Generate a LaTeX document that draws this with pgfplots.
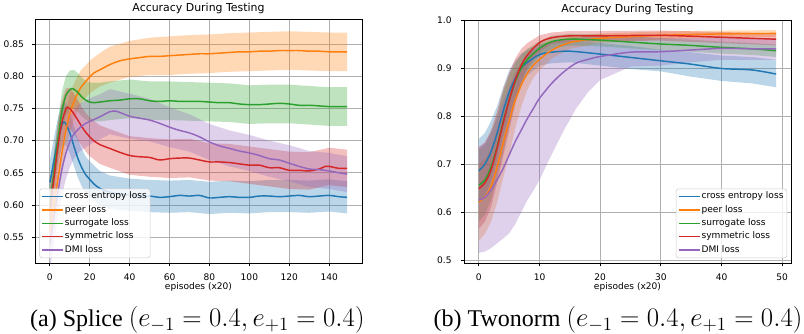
\RequirePackage{fix-cm}
\documentclass[border=0pt]{standalone}
\usepackage[no-math]{fontspec}
\setmainfont{DejaVu Sans}
\newfontfamily\capfont{Liberation Serif}
\usepackage{pgfplots}
\usepackage{pgfplotstable}
\pgfplotsset{compat=1.18}
\definecolor{c1}{HTML}{1F77B4}
\definecolor{c2}{HTML}{FF7F0E}
\definecolor{c3}{HTML}{2CA02C}
\definecolor{c4}{HTML}{D62728}
\definecolor{c5}{HTML}{9467BD}
\definecolor{gridc}{RGB}{176,176,176}
\definecolor{legc}{RGB}{204,204,204}

% ---------- Splice (left) : mean curves ----------
\pgfplotstableread{
t m
0 0.635
2 0.668
4 0.700
6 0.724
7 0.729
8 0.726
10 0.712
12 0.692
14 0.673
16 0.658
18 0.647
20 0.640
22 0.633
25 0.626
30 0.620
35 0.617
40 0.616
45 0.614
50 0.614
55 0.612
60 0.613
65 0.615
70 0.614
75 0.615
80 0.611
85 0.612
90 0.613
95 0.612
100 0.612
105 0.614
110 0.614
115 0.613
120 0.614
125 0.615
130 0.613
135 0.614
140 0.615
145 0.613
149 0.612
}\LA
\pgfplotstableread{
t m
0 0.560
2 0.600
4 0.640
6 0.680
8 0.715
10 0.742
12 0.760
15 0.780
18 0.792
20 0.799
22 0.805
25 0.810
30 0.818
35 0.824
40 0.827
45 0.829
50 0.831
55 0.831
60 0.832
65 0.833
70 0.834
75 0.835
80 0.835
85 0.836
90 0.837
95 0.838
100 0.838
105 0.839
110 0.839
115 0.840
120 0.840
125 0.840
130 0.839
135 0.839
140 0.838
145 0.838
149 0.838
}\LB
\pgfplotstableread{
t m
0 0.600
2 0.650
4 0.700
6 0.745
8 0.770
10 0.779
11 0.781
12 0.780
14 0.775
16 0.768
18 0.763
20 0.760
22 0.759
25 0.760
30 0.762
35 0.763
40 0.765
45 0.765
50 0.762
55 0.761
60 0.762
65 0.761
70 0.761
75 0.761
80 0.760
85 0.759
90 0.759
95 0.757
100 0.756
105 0.756
110 0.757
115 0.758
120 0.757
125 0.755
130 0.755
135 0.754
140 0.753
145 0.753
149 0.753
}\LC
\pgfplotstableread{
t m
0 0.590
2 0.640
4 0.690
6 0.728
8 0.749
9 0.752
10 0.750
12 0.742
14 0.732
16 0.722
18 0.713
20 0.706
22 0.700
25 0.694
30 0.688
35 0.682
40 0.677
45 0.675
50 0.674
55 0.670
60 0.672
65 0.673
70 0.673
75 0.670
80 0.667
85 0.667
90 0.666
95 0.664
100 0.662
105 0.662
110 0.658
115 0.658
120 0.654
125 0.654
130 0.653
135 0.656
138 0.660
140 0.660
145 0.657
149 0.657
}\LD
\pgfplotstableread{
t m
0 0.540
2 0.580
4 0.620
6 0.655
8 0.680
10 0.698
12 0.710
15 0.720
18 0.727
20 0.730
25 0.737
30 0.745
33 0.746
35 0.744
40 0.738
45 0.735
50 0.732
55 0.727
60 0.721
65 0.716
70 0.712
75 0.706
80 0.698
85 0.692
90 0.688
95 0.684
100 0.681
105 0.677
110 0.672
115 0.670
120 0.665
125 0.660
130 0.656
135 0.655
140 0.653
145 0.650
149 0.648
}\LE

% ---------- Twonorm (right) : mean curves ----------
\pgfplotstableread{
t m
0 0.686
1 0.700
2 0.726
3 0.764
4 0.810
5 0.850
6 0.878
7 0.900
8 0.912
10 0.928
12 0.933
15 0.935
20 0.929
25 0.922
30 0.915
35 0.908
40 0.899
45 0.896
49 0.8875
}\RA
\pgfplotstableread{
t m
0 0.621
1 0.632
2 0.653
3 0.694
4 0.743
5 0.790
6 0.833
7 0.865
8 0.889
9 0.906
10 0.918
12 0.937
15 0.953
20 0.962
30 0.968
40 0.971
49 0.972
}\RB
\pgfplotstableread{
t m
0 0.656
1 0.667
2 0.694
3 0.736
4 0.788
5 0.833
6 0.872
7 0.900
8 0.918
10 0.941
12 0.955
15 0.960
20 0.958
25 0.954
30 0.950
35 0.947
40 0.943
45 0.940
49 0.936
}\RC
\pgfplotstableread{
t m
0 0.649
1 0.661
2 0.6875
3 0.733
4 0.785
5 0.833
6 0.875
7 0.906
8 0.927
10 0.953
12 0.963
15 0.967
20 0.967
30 0.968
40 0.964
49 0.960
}\RD
\pgfplotstableread{
t m
0 0.625
1 0.631
2 0.646
3 0.667
4 0.691
5 0.719
6 0.747
7 0.771
8 0.795
9 0.816
10 0.837
12 0.868
14 0.892
16 0.910
18 0.918
20 0.924
25 0.933
30 0.934
35 0.9375
40 0.941
45 0.940
49 0.940
}\RE

\pgfplotsset{
  band/.style={fill=#1, fill opacity=0.3, draw=none, forget plot},
  mean/.style={#1, line width=1.1pt, smooth},
  mpl/.style={
    scale only axis,
    axis line style={black, line width=0.6pt},
    grid=major,
    major grid style={gridc, line width=0.7pt},
    tick align=outside,
    tick pos=left,
    major tick length=2.6pt,
    every tick/.style={black, line width=0.6pt},
    tick label style={font=\fontsize{6.8}{8}\selectfont},
    /pgf/number format/assume math mode=true,
    xticklabel style={anchor=base, inner sep=0pt, yshift=-10.7pt},
    xlabel={episodes (x20)},
    xlabel style={font=\fontsize{6.8}{8}\selectfont, at={(axis description cs:0.5,0)}, anchor=base, inner sep=0pt, yshift=-19.5pt},
    title={Accuracy During Testing},
    title style={font=\fontsize{8.2}{9.8}\selectfont, at={(axis description cs:0.5,1)}, anchor=base, inner sep=0pt, yshift=-0.5pt},
    legend cell align=left,
    legend image code/.code={\draw[##1, line width=1.1pt] (0pt,0pt) -- (15.5pt,0pt);},
    legend style={font=\fontsize{6.8}{8}\selectfont, draw=legc, fill=white, fill opacity=0.8, draw opacity=1, text opacity=1, rounded corners=2pt, inner xsep=1.5pt, inner ysep=1.7pt, row sep=1.6pt, nodes={inner sep=1pt, text height=4.9pt, text depth=1.5pt}},
  }
}

\begin{document}
\begin{tikzpicture}
\useasboundingbox (0,0) rectangle (603pt,249.75pt);

\begin{axis}[mpl,
  at={(26.25pt,52.5pt)}, anchor=south west,
  width=245.25pt, height=183pt,
  xmin=-7.45, xmax=156.45, ymin=0.510, ymax=0.889,
  xtick={0,20,...,140},
  ytick={0.55,0.60,0.65,0.70,0.75,0.80,0.85},
  yticklabel style={anchor=east, inner sep=0pt, xshift=-5.5pt, /pgf/number format/.cd, fixed, fixed zerofill, precision=2},
  legend style={at={(0.013,0.02)}, anchor=south west},
]
% bands: upper edge forward, lower edge backward
\addplot[band=c1] coordinates {(0,0.670) (2,0.703) (4,0.735) (6,0.757) (8,0.759) (10,0.744) (12,0.723) (14,0.703) (16,0.687) (18,0.675) (20,0.668) (25,0.653) (30,0.646) (40,0.641) (50,0.639) (60,0.638) (70,0.639) (80,0.636) (90,0.638) (100,0.637) (110,0.639) (120,0.639) (130,0.638) (140,0.640) (149,0.637)
 (149,0.587) (140,0.590) (130,0.588) (120,0.589) (110,0.589) (100,0.587) (90,0.588) (80,0.586) (70,0.589) (60,0.588) (50,0.589) (40,0.591) (30,0.594) (25,0.599) (20,0.612) (18,0.619) (16,0.629) (14,0.643) (12,0.661) (10,0.680) (8,0.693) (6,0.691) (4,0.665) (2,0.633) (0,0.600)};
\addplot[band=c2] coordinates {(0,0.590) (2,0.630) (4,0.670) (6,0.710) (8,0.745) (10,0.772) (12,0.788) (14,0.801) (16,0.811) (18,0.817) (20,0.824) (25,0.836) (30,0.846) (40,0.855) (50,0.860) (60,0.862) (70,0.864) (80,0.865) (90,0.867) (100,0.868) (110,0.869) (120,0.870) (130,0.869) (140,0.868) (149,0.868)
 (149,0.808) (140,0.808) (130,0.809) (120,0.810) (110,0.809) (100,0.808) (90,0.807) (80,0.805) (70,0.804) (60,0.802) (50,0.802) (40,0.799) (30,0.790) (25,0.784) (20,0.774) (18,0.767) (16,0.759) (14,0.747) (12,0.732) (10,0.712) (8,0.685) (6,0.650) (4,0.610) (2,0.570) (0,0.530)};
\addplot[band=c3] coordinates {(0,0.630) (2,0.680) (4,0.730) (6,0.775) (8,0.800) (10,0.809) (12,0.810) (14,0.805) (16,0.798) (18,0.793) (20,0.790) (25,0.790) (30,0.792) (40,0.795) (50,0.792) (60,0.792) (70,0.791) (80,0.790) (90,0.789) (100,0.786) (110,0.787) (120,0.787) (130,0.785) (140,0.783) (149,0.783)
 (149,0.723) (140,0.723) (130,0.725) (120,0.727) (110,0.727) (100,0.726) (90,0.729) (80,0.730) (70,0.731) (60,0.732) (50,0.732) (40,0.735) (30,0.732) (25,0.730) (20,0.730) (18,0.733) (16,0.738) (14,0.745) (12,0.750) (10,0.749) (8,0.740) (6,0.715) (4,0.670) (2,0.620) (0,0.570)};
\addplot[band=c4] coordinates {(0,0.625) (2,0.675) (4,0.724) (6,0.761) (8,0.781) (10,0.782) (12,0.773) (14,0.763) (16,0.752) (18,0.743) (20,0.736) (25,0.724) (30,0.718) (40,0.707) (50,0.704) (60,0.702) (70,0.703) (80,0.696) (90,0.695) (100,0.691) (110,0.687) (120,0.683) (130,0.682) (140,0.689) (149,0.686)
 (149,0.628) (140,0.631) (130,0.624) (120,0.625) (110,0.629) (100,0.633) (90,0.637) (80,0.638) (70,0.643) (60,0.642) (50,0.644) (40,0.647) (30,0.658) (25,0.664) (20,0.676) (18,0.683) (16,0.692) (14,0.701) (12,0.711) (10,0.718) (8,0.717) (6,0.695) (4,0.656) (2,0.605) (0,0.555)};
\addplot[band=c5] coordinates {(0,0.580) (2,0.620) (4,0.660) (6,0.695) (8,0.720) (10,0.738) (12,0.748) (15,0.757) (20,0.766) (25,0.772) (30,0.780) (40,0.773) (50,0.765) (60,0.752) (70,0.741) (80,0.726) (90,0.716) (100,0.709) (110,0.700) (120,0.693) (130,0.684) (140,0.681) (149,0.676)
 (149,0.620) (140,0.625) (130,0.628) (120,0.637) (110,0.644) (100,0.653) (90,0.660) (80,0.670) (70,0.683) (60,0.690) (50,0.699) (40,0.703) (30,0.710) (25,0.702) (20,0.694) (15,0.683) (12,0.672) (10,0.658) (8,0.640) (6,0.615) (4,0.580) (2,0.540) (0,0.500)};
\addplot[mean=c1] table[x=t, y=m] {\LA};
\addplot[mean=c2] table[x=t, y=m] {\LB};
\addplot[mean=c3] table[x=t, y=m] {\LC};
\addplot[mean=c4] table[x=t, y=m] {\LD};
\addplot[mean=c5] table[x=t, y=m] {\LE};
\legend{cross entropy loss, peer loss, surrogate loss, symmetric loss, DMI loss}
\end{axis}

\begin{axis}[mpl,
  at={(348pt,52.5pt)}, anchor=south west,
  width=245.25pt, height=182.25pt,
  xmin=-2.45, xmax=51.45, ymin=0.494, ymax=1.0,
  xtick={0,10,...,50},
  ytick={0.5,0.6,0.7,0.8,0.9,1.0},
  yticklabel style={anchor=east, inner sep=0pt, xshift=-6.5pt, /pgf/number format/.cd, fixed, fixed zerofill, precision=1},
  legend style={at={(0.988,0.02)}, anchor=south east},
]
\addplot[band=c1] coordinates {(0,0.752) (1,0.765) (2,0.790) (3,0.820) (4,0.860) (5,0.895) (6,0.915) (7,0.930) (8,0.938) (10,0.950) (12,0.955) (15,0.957) (20,0.952) (25,0.946) (30,0.938) (35,0.933) (40,0.926) (45,0.923) (49,0.917)
 (49,0.860) (45,0.868) (40,0.873) (35,0.882) (30,0.893) (25,0.898) (20,0.905) (15,0.912) (12,0.910) (10,0.905) (8,0.885) (7,0.865) (6,0.840) (5,0.800) (4,0.760) (3,0.710) (2,0.665) (1,0.635) (0,0.620)};
\addplot[band=c2] coordinates {(0,0.700) (1,0.710) (2,0.730) (3,0.770) (4,0.815) (5,0.855) (6,0.890) (7,0.910) (8,0.925) (9,0.935) (10,0.942) (12,0.953) (15,0.965) (20,0.972) (30,0.976) (40,0.978) (49,0.979)
 (49,0.965) (40,0.964) (30,0.960) (20,0.952) (15,0.940) (12,0.920) (10,0.895) (9,0.880) (8,0.855) (7,0.820) (6,0.775) (5,0.720) (4,0.670) (3,0.620) (2,0.580) (1,0.555) (0,0.540)};
\addplot[band=c3] coordinates {(0,0.730) (1,0.740) (2,0.765) (3,0.800) (4,0.850) (5,0.885) (6,0.910) (7,0.928) (8,0.940) (10,0.956) (12,0.967) (15,0.971) (20,0.970) (25,0.966) (30,0.962) (35,0.959) (40,0.955) (45,0.952) (49,0.949)
 (49,0.923) (45,0.927) (40,0.930) (35,0.934) (30,0.937) (25,0.941) (20,0.945) (15,0.947) (12,0.940) (10,0.925) (8,0.895) (7,0.870) (6,0.830) (5,0.780) (4,0.725) (3,0.670) (2,0.625) (1,0.595) (0,0.580)};
\addplot[band=c4] coordinates {(0,0.735) (1,0.745) (2,0.770) (3,0.810) (4,0.855) (5,0.890) (6,0.920) (7,0.940) (8,0.952) (10,0.968) (12,0.974) (15,0.977) (20,0.977) (30,0.978) (40,0.975) (49,0.972)
 (49,0.947) (40,0.952) (30,0.957) (20,0.956) (15,0.955) (12,0.950) (10,0.935) (8,0.900) (7,0.870) (6,0.825) (5,0.770) (4,0.715) (3,0.660) (2,0.610) (1,0.580) (0,0.565)};
\addplot[band=c5] coordinates {(0,0.735) (1,0.745) (2,0.765) (3,0.795) (4,0.830) (5,0.860) (6,0.890) (7,0.910) (8,0.925) (9,0.937) (10,0.945) (12,0.955) (14,0.960) (16,0.963) (18,0.965) (20,0.966) (25,0.965) (30,0.963) (35,0.962) (40,0.963) (45,0.962) (49,0.962)
 (49,0.917) (45,0.917) (40,0.917) (35,0.912) (30,0.905) (25,0.903) (20,0.875) (18,0.850) (16,0.815) (14,0.770) (12,0.720) (10,0.667) (9,0.645) (8,0.625) (7,0.600) (6,0.575) (5,0.556) (4,0.545) (3,0.535) (2,0.525) (1,0.518) (0,0.515)};
\addplot[mean=c1] table[x=t, y=m] {\RA};
\addplot[mean=c2] table[x=t, y=m] {\RB};
\addplot[mean=c3] table[x=t, y=m] {\RC};
\addplot[mean=c4] table[x=t, y=m] {\RD};
\addplot[mean=c5] table[x=t, y=m] {\RE};
\legend{cross entropy loss, peer loss, surrogate loss, symmetric loss, DMI loss}
\end{axis}

\node[anchor=base, inner sep=0pt] at (148pt,5pt)
  {{\capfont\fontsize{18}{21}\selectfont (a) Splice }{\fontsize{20.1}{24}\selectfont$(e_{-1} = 0.4, e_{+1} = 0.4)$}};
\node[anchor=base, inner sep=0pt] at (463.5pt,5pt)
  {{\capfont\fontsize{18}{21}\selectfont (b) Twonorm }{\fontsize{20.1}{24}\selectfont$(e_{-1} = 0.4, e_{+1} = 0.4)$}};
\end{tikzpicture}
\end{document}
